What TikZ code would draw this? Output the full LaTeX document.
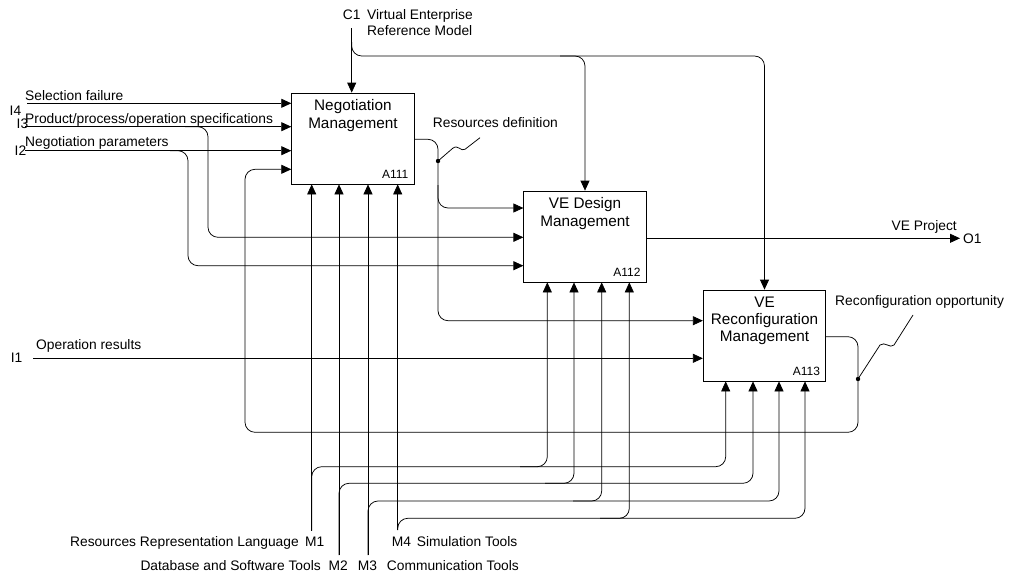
\documentclass[tikz,border=0pt]{standalone}
\usepackage{fontspec}
\setmainfont{Liberation Sans}
\usetikzlibrary{arrows.meta}

\begin{document}
\begin{tikzpicture}[x=10pt,y=10pt]
	\tikzstyle{every node}+=[inner sep=0pt]
	\tikzstyle{act}=[draw, line width=0.75pt, minimum width=122.5pt, minimum height=91pt]
	\tikzstyle{ttl}=[font=\fontsize{15.3}{17.3}\selectfont, align=center, anchor=north]
	\tikzstyle{idl}=[font=\fontsize{12}{14}\selectfont, anchor=south east]
	\tikzstyle{lbl}=[font=\fontsize{13.8}{16}\selectfont]
	\tikzstyle{flow}=[line width=0.75pt, -{Triangle[length=10pt,width=9pt]}]
	\tikzstyle{pipe}=[line width=0.75pt, rounded corners=10pt]
	\useasboundingbox (0,0) rectangle (101.6,-57.6);
	% activity boxes
	\node[act] (a111) at (35.29,-13.85) {};
	\node[act] (a112) at (58.5,-23.65) {};
	\node[act] (a113) at (76.45,-33.55) {};
	\node[ttl] (t111) at ([yshift=-7pt]a111.north) {Negotiation\\Management};
	\node[ttl] (t112) at ([yshift=-7pt]a112.north) {VE Design\\Management};
	\node[ttl] (t113) at ([yshift=-7pt]a113.north) {VE\\Reconfiguration\\Management};
	\node[idl] (n111) at ([xshift=-6pt,yshift=5.5pt]a111.south east) {A111};
	\node[idl] (n112) at ([xshift=-6pt,yshift=5.5pt]a112.south east) {A112};
	\node[idl] (n113) at ([xshift=-6pt,yshift=5.5pt]a113.south east) {A113};
	% control
	\coordinate (c1) at (35.17,-2.83);
	\node[lbl, anchor=base] (c1l) at (35.17,-1.9) {C1};
	\node[lbl, anchor=north west, align=left] (c1t) at (36.7,-0.9) {Virtual Enterprise\\Reference Model};
	\draw[flow] (c1) -- (c1 |- a111.north);
	\draw[flow, pipe] (35.17,-4.2) |- (76.45,-5.6) -- (a113.north);
	\draw[flow, pipe] (56,-5.6) -| (a112.north);
	% inputs
	\coordinate (i4) at (2.7,-10.33);
	\coordinate (i3) at (2.5,-12.67);
	\coordinate (i2) at (2.5,-15.07);
	\coordinate (i1) at (3.33,-35.83);
	\node[lbl, anchor=base west] (i4c) at (0.95,-11.55) {I4};
	\node[lbl, anchor=base west] (i3c) at (1.65,-12.83) {I3};
	\node[lbl, anchor=base west] (i2c) at (1.45,-15.5) {I2};
	\node[lbl, anchor=base east] (i1c) at (2.25,-36.2) {I1};
	\node[lbl, anchor=base west] (i4t) at (2.5,-10.0) {Selection failure};
	\node[lbl, anchor=base west] (i3t) at (2.5,-12.35) {Product/process/operation specifications};
	\node[lbl, anchor=base west] (i2t) at (2.5,-14.67) {Negotiation parameters};
	\node[lbl, anchor=base west] (i1t) at (3.6,-34.95) {Operation results};
	\draw[flow] (i4) -- (i4 -| a111.west);
	\draw[flow] (i3) -- (i3 -| a111.west);
	\draw[flow] (i2) -- (i2 -| a111.west);
	\draw[flow, pipe] (18.5,-12.67) -| (20.8,-23.73) -- (a112.west |- 0,-23.73);
	\draw[flow, pipe] (17,-15.07) -| (18.8,-26.57) -- (a112.west |- 0,-26.57);
	\draw[flow] (i1) -- (i1 -| a113.west);
	% outputs
	\draw[flow, pipe] (a111.east |- 0,-13.93) -| (43.8,-20.8) -- (a112.west |- 0,-20.8);
	\draw[flow, pipe] (43.8,-18.5) -- (43.8,-32.07) -- (a113.west |- 0,-32.07);
	\coordinate (rd) at (43.8,-16.1);
	\fill (rd) circle (2.2pt);
	\draw[line width=0.75pt] (rd) -- (45.27,-14.83) .. controls (45.8,-14.4) and (46.1,-15.2) .. (46.5,-14.93) -- (48,-13.77);
	\node[lbl, anchor=base west] (rdl) at (43.27,-12.77) {Resources definition};
	\coordinate (o1) at (96,-23.83);
	\draw[flow] (a112.east |- o1) -- (o1);
	\node[lbl, anchor=base east] (o1t) at (95.7,-23.0) {VE Project};
	\node[lbl, anchor=base west] (o1c) at (96.3,-24.33) {O1};
	% feedback
	\draw[flow, pipe] (a113.east |- 0,-33.67) -| (85.8,-43.23) -| (24.5,-16.93) -- (a111.west |- 0,-16.93);
	\coordinate (ro) at (85.8,-37.9);
	\fill (ro) circle (2.2pt);
	\draw[line width=0.75pt] (ro) -- (88,-34.5) .. controls (88.5,-34.1) and (89,-34.9) .. (89.4,-34.5) -- (91.3,-31.5);
	\node[lbl, anchor=base west] (rol) at (83.5,-30.5) {Reconfiguration opportunity};
	% mechanisms
	\coordinate (m1) at (31.17,-53.07);
	\coordinate (m2) at (33.9,-55.5);
	\coordinate (m3) at (36.8,-55.5);
	\coordinate (m4) at (39.77,-53);
	\draw[flow] (m1) -- (m1 |- a111.south);
	\draw[flow] (m2) -- (m2 |- a111.south);
	\draw[flow] (m3) -- (m3 |- a111.south);
	\draw[flow] (m4) -- (m4 |- a111.south);
	\draw[flow, pipe] (m1) |- (72.57,-46.67) -- (72.57,0 |- a113.south);
	\draw[flow, pipe] (52,-46.67) -| (54.73,0 |- a112.south);
	\draw[flow, pipe] (m2) |- (75.3,-48.33) -- (75.3,0 |- a113.south);
	\draw[flow, pipe] (54.5,-48.33) -| (57.4,0 |- a112.south);
	\draw[flow, pipe] (m3) |- (77.9,-50.1) -- (77.9,0 |- a113.south);
	\draw[flow, pipe] (57.3,-50.1) -| (60.17,0 |- a112.south);
	\draw[flow, pipe] (m4) |- (80.5,-51.83) -- (80.5,0 |- a113.south);
	\draw[flow, pipe] (60,-51.83) -| (62.93,0 |- a112.south);
	\node[lbl, anchor=base east] (m1t) at (29.9,-54.67) {Resources Representation Language};
	\node[lbl, anchor=base west] (m1c) at (30.5,-54.67) {M1};
	\node[lbl, anchor=base east] (m2t) at (32.1,-57) {Database and Software Tools};
	\node[lbl, anchor=base west] (m2c) at (32.83,-57) {M2};
	\node[lbl, anchor=base west] (m3c) at (35.77,-57) {M3};
	\node[lbl, anchor=base west] (m3t) at (38.67,-57) {Communication Tools};
	\node[lbl, anchor=base west] (m4c) at (39.17,-54.67) {M4};
	\node[lbl, anchor=base west] (m4t) at (41.67,-54.67) {Simulation Tools};
\end{tikzpicture}
\end{document}
